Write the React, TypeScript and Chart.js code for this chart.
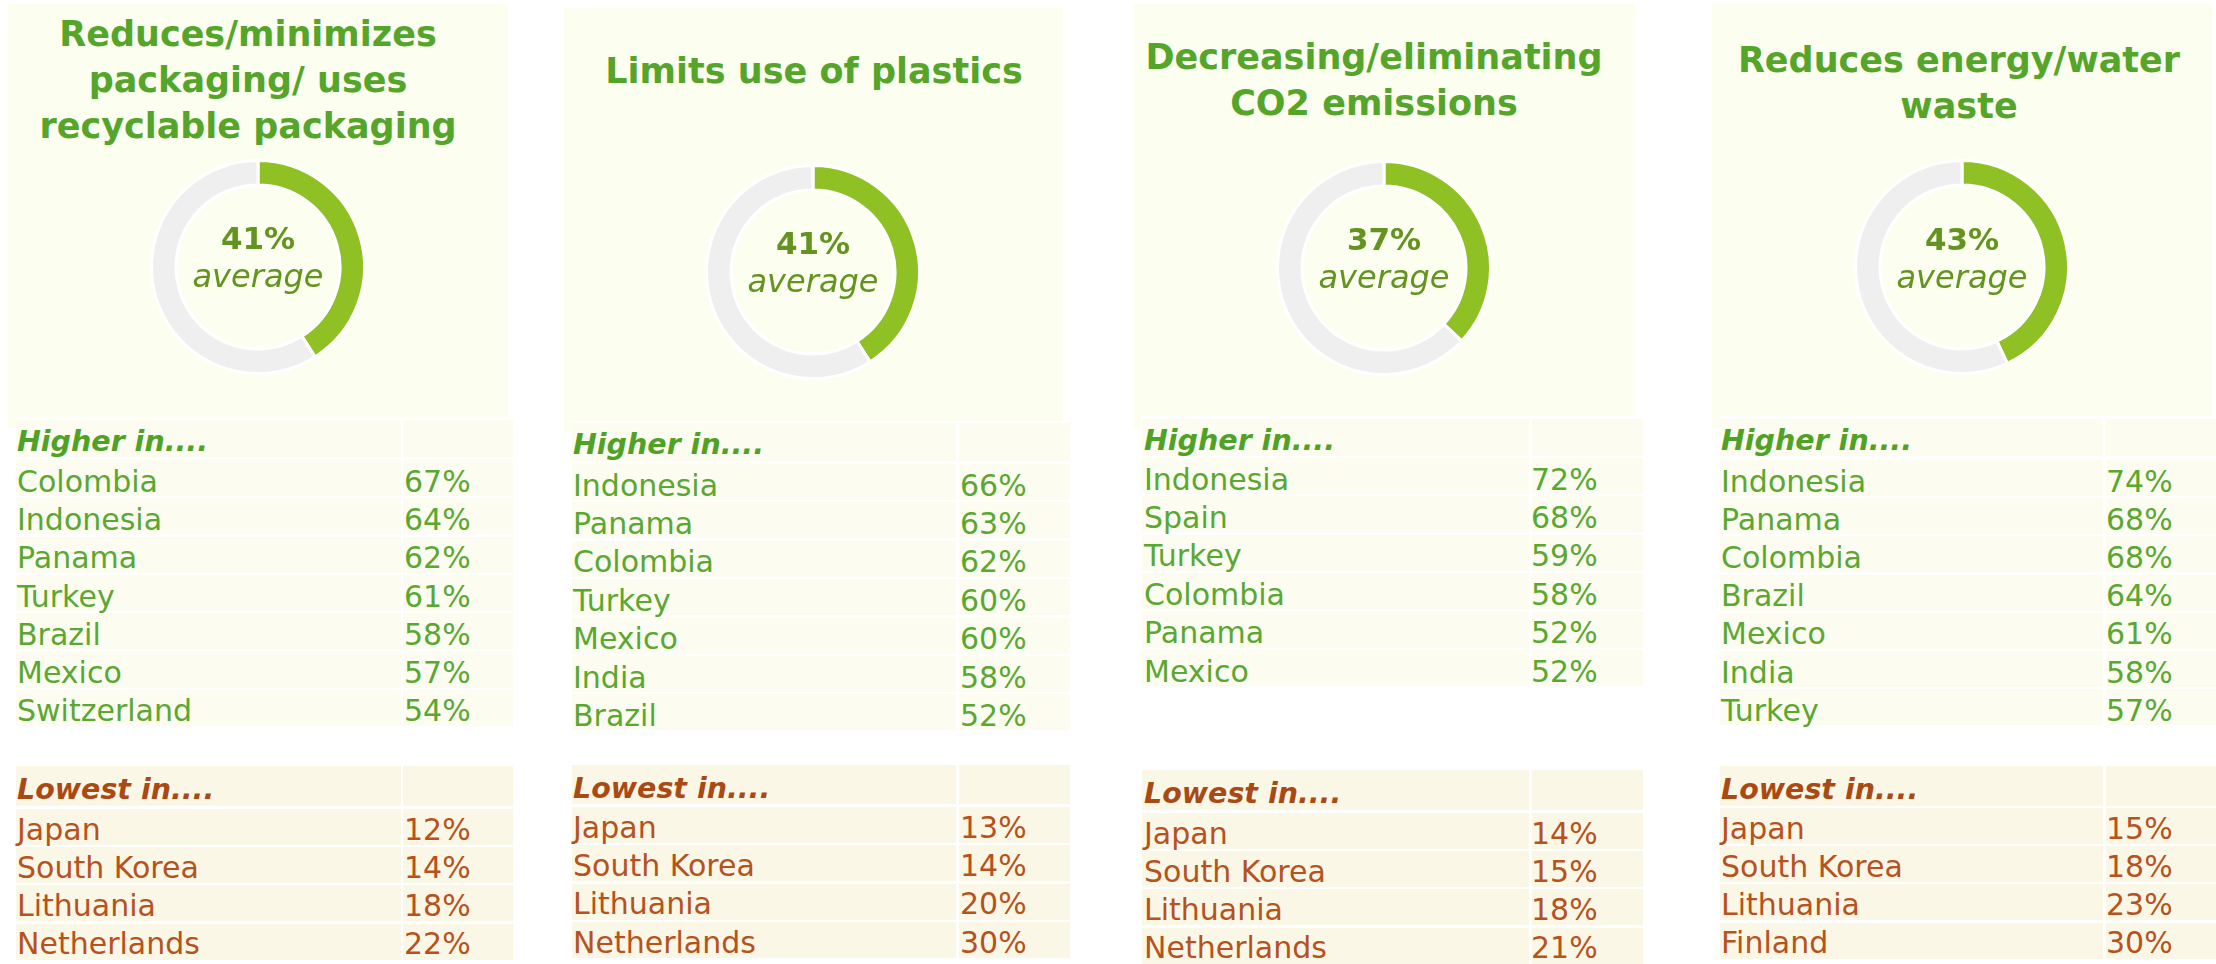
import React, { useEffect, useRef } from "react";
import { Chart, registerables } from "chart.js";

Chart.register(...registerables);

// ---------------- DATA ----------------
const panelTitles: string[][] = [
  ["Reduces/minimizes", "packaging/ uses", "recyclable packaging"],
  ["Limits use of plastics"],
  ["Decreasing/eliminating", "CO2 emissions"],
  ["Reduces energy/water", "waste"],
];
const averages: number[] = [41, 41, 37, 43];
const higherCountries: string[][] = [
  ["Colombia", "Indonesia", "Panama", "Turkey", "Brazil", "Mexico", "Switzerland"],
  ["Indonesia", "Panama", "Colombia", "Turkey", "Mexico", "India", "Brazil"],
  ["Indonesia", "Spain", "Turkey", "Colombia", "Panama", "Mexico"],
  ["Indonesia", "Panama", "Colombia", "Brazil", "Mexico", "India", "Turkey"],
];
const higherValues: number[][] = [
  [67, 64, 62, 61, 58, 57, 54],
  [66, 63, 62, 60, 60, 58, 52],
  [72, 68, 59, 58, 52, 52],
  [74, 68, 68, 64, 61, 58, 57],
];
const lowestCountries: string[][] = [
  ["Japan", "South Korea", "Lithuania", "Netherlands"],
  ["Japan", "South Korea", "Lithuania", "Netherlands"],
  ["Japan", "South Korea", "Lithuania", "Netherlands"],
  ["Japan", "South Korea", "Lithuania", "Finland"],
];
const lowestValues: number[][] = [
  [12, 14, 18, 22],
  [13, 14, 20, 30],
  [14, 15, 18, 21],
  [15, 18, 23, 30],
];
const higherLabel = "Higher in....";
const lowestLabel = "Lowest in....";
const averageLabel = "average";

// ---------------- STYLE / LAYOUT ----------------
const FONT = '"DejaVu Sans", "Open Sans", sans-serif';
const C = {
  boxBg: "#FCFEF0",
  hiBg: "#FCFDF0",
  loBg: "#FBF7E6",
  title: "#55A52A",
  hiText: "#5AA732",
  hiHead: "#4FA226",
  loText: "#B5521D",
  loHead: "#A94A14",
  donutGreen: "#8FC125",
  donutGray: "#EFEFEF",
  center: "#649420",
};

type Geo = {
  box: number[]; strip: number[]; titleCx: number; titleBase: number[];
  donut: number[]; numBase: number; avgBase: number;
  c1: number[]; c2: number[]; nameX: number; valX: number;
  hi: { top: number; hh: number; row0: number; pitch: number };
  lo: { top: number; hh: number; row0: number; pitch: number };
};

const layout: Geo[] = [
  {
    box: [8, 4, 508, 417], strip: [8, 417, 16, 428], titleCx: 248, titleBase: [47, 93, 139],
    donut: [258, 267], numBase: 249, avgBase: 287,
    c1: [16, 401], c2: [403, 513], nameX: 17, valX: 404,
    hi: { top: 420, hh: 37, row0: 460, pitch: 38.3 },
    lo: { top: 766, hh: 40, row0: 809, pitch: 38.2 },
  },
  {
    box: [564, 8, 1063, 421], strip: [564, 421, 572, 432], titleCx: 814, titleBase: [84],
    donut: [813, 272], numBase: 254, avgBase: 292,
    c1: [572, 956], c2: [959, 1070], nameX: 573, valX: 960,
    hi: { top: 423, hh: 38, row0: 464, pitch: 38.4 },
    lo: { top: 765, hh: 39, row0: 807, pitch: 38.4 },
  },
  {
    box: [1134, 4, 1635, 416], strip: [1134, 416, 1141, 429], titleCx: 1374, titleBase: [70, 116],
    donut: [1384, 268], numBase: 250, avgBase: 288,
    c1: [1142, 1529], c2: [1532, 1643], nameX: 1144, valX: 1531,
    hi: { top: 419, hh: 37, row0: 458, pitch: 38.4 },
    lo: { top: 770, hh: 40, row0: 813, pitch: 38.2 },
  },
  {
    box: [1712, 3, 2212, 416], strip: [1712, 416, 1720, 428], titleCx: 1959, titleBase: [73, 119],
    donut: [1962, 267], numBase: 250, avgBase: 288,
    c1: [1720, 2103], c2: [2106, 2216], nameX: 1721, valX: 2106,
    hi: { top: 419, hh: 37, row0: 460, pitch: 38.2 },
    lo: { top: 766, hh: 40, row0: 808, pitch: 38.2 },
  },
];

const DONUT_SIZE = 216;

// ---------------- COMPONENTS ----------------
function Txt(props: {
  x: number; base: number; size: number; color: string; weight?: number;
  italic?: boolean; center?: boolean; children: React.ReactNode;
}) {
  const { x, base, size, color, weight = 400, italic = false, center = false, children } = props;
  const style: React.CSSProperties = {
    position: "absolute",
    top: base - 0.846 * size,
    left: x,
    fontSize: size,
    lineHeight: `${size}px`,
    fontFamily: FONT,
    fontWeight: weight,
    fontStyle: italic ? "italic" : "normal",
    color,
    whiteSpace: "nowrap",
    transform: center ? "translateX(-50%)" : undefined,
  };
  return <div style={style}>{children}</div>;
}

function Rect({ r, bg }: { r: number[]; bg: string }) {
  return (
    <div
      style={{ position: "absolute", left: r[0], top: r[1], width: r[2] - r[0], height: r[3] - r[1], background: bg }}
    />
  );
}

function Donut({ value, cx, cy }: { value: number; cx: number; cy: number }) {
  const ref = useRef<HTMLCanvasElement>(null);
  useEffect(() => {
    const chart = new Chart(ref.current!, {
      type: "doughnut",
      data: {
        labels: ["Average", "Rest"],
        datasets: [
          {
            data: [value, 100 - value],
            backgroundColor: [C.donutGreen, C.donutGray],
            borderColor: "#ffffff",
            borderWidth: 3,
            hoverOffset: 0,
          },
        ],
      },
      options: {
        responsive: false,
        animation: false,
        cutout: "77%",
        events: [],
        layout: { padding: 0 },
        plugins: { legend: { display: false }, tooltip: { enabled: false } },
      },
    });
    return () => chart.destroy();
  }, [value]);
  return (
    <canvas
      ref={ref}
      width={DONUT_SIZE}
      height={DONUT_SIZE}
      style={{
        position: "absolute",
        left: cx - DONUT_SIZE / 2,
        top: cy - DONUT_SIZE / 2,
        width: DONUT_SIZE,
        height: DONUT_SIZE,
      }}
    />
  );
}

function Table(props: {
  g: Geo; geo: { top: number; hh: number; row0: number; pitch: number };
  label: string; names: string[]; values: number[]; bg: string; textColor: string; headColor: string;
  headBaseOff: number; rowBaseOff: number;
}) {
  const { g, geo, label, names, values, bg, textColor, headColor, headBaseOff, rowBaseOff } = props;
  const out: React.ReactNode[] = [];
  const rowH = 36;
  out.push(<Rect key="h1" r={[g.c1[0], geo.top, g.c1[1], geo.top + geo.hh]} bg={bg} />);
  out.push(<Rect key="h2" r={[g.c2[0], geo.top, g.c2[1], geo.top + geo.hh]} bg={bg} />);
  out.push(
    <Txt key="ht" x={g.nameX} base={geo.top + headBaseOff} size={28.5} color={headColor} weight={700} italic>
      {label}
    </Txt>
  );
  names.forEach((n, i) => {
    const top = geo.row0 + i * geo.pitch;
    out.push(<Rect key={"a" + i} r={[g.c1[0], top, g.c1[1], top + rowH]} bg={bg} />);
    out.push(<Rect key={"b" + i} r={[g.c2[0], top, g.c2[1], top + rowH]} bg={bg} />);
    out.push(
      <Txt key={"n" + i} x={g.nameX} base={top + rowBaseOff} size={30} color={textColor}>
        {n}
      </Txt>
    );
    out.push(
      <Txt key={"v" + i} x={g.valX} base={top + rowBaseOff} size={30} color={textColor}>
        {values[i] + "%"}
      </Txt>
    );
  });
  return <>{out}</>;
}

function Panel({ idx }: { idx: number }) {
  const g = layout[idx];
  return (
    <>
      <Rect r={g.box} bg={C.boxBg} />
      <Rect r={g.strip} bg={C.boxBg} />
      {panelTitles[idx].map((t, i) => (
        <Txt key={"t" + i} x={g.titleCx} base={g.titleBase[i]} size={35} color={C.title} weight={700} center>
          {t}
        </Txt>
      ))}
      <Donut value={averages[idx]} cx={g.donut[0]} cy={g.donut[1]} />
      <Txt x={g.donut[0]} base={g.numBase} size={31} color={C.center} weight={700} center>
        {averages[idx] + "%"}
      </Txt>
      <Txt x={g.donut[0]} base={g.avgBase} size={32} color={C.center} italic center>
        {averageLabel}
      </Txt>
      <Table
        g={g} geo={g.hi} label={higherLabel} names={higherCountries[idx]} values={higherValues[idx]}
        bg={C.hiBg} textColor={C.hiText} headColor={C.hiHead} headBaseOff={32} rowBaseOff={32}
      />
      <Table
        g={g} geo={g.lo} label={lowestLabel} names={lowestCountries[idx]} values={lowestValues[idx]}
        bg={C.loBg} textColor={C.loText} headColor={C.loHead} headBaseOff={34} rowBaseOff={31}
      />
    </>
  );
}

export default function App() {
  return (
    <div
      style={{
        position: "absolute",
        left: 0,
        top: 0,
        width: 2216,
        height: 964,
        overflow: "hidden",
        background: "#ffffff",
      }}
    >
      {layout.map((_, i) => (
        <Panel key={i} idx={i} />
      ))}
    </div>
  );
}
